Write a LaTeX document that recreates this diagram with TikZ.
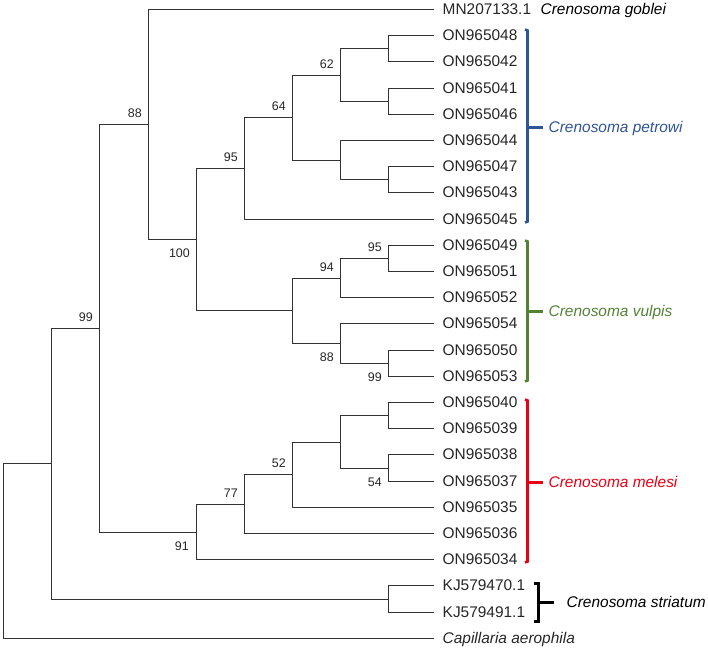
\documentclass[tikz,border=0pt]{standalone}
\usepackage{fontspec}
\setmainfont{Liberation Sans}
\usetikzlibrary{positioning}
\definecolor{petrowiblue}{RGB}{47,85,151}
\definecolor{vulpisgreen}{RGB}{84,130,53}
\definecolor{melesired}{RGB}{232,0,20}
\definecolor{treegray}{RGB}{50,50,50}
\begin{document}
\begin{tikzpicture}[x=1bp, y=-1bp, font=\fontsize{15.5}{18}\selectfont,
    branch/.style={draw=treegray, line width=1.25bp},
    leaf/.style={anchor=west, inner xsep=9bp, inner ysep=0pt, text height=11pt, text depth=0pt, text=black!85},
    boot/.style={font=\fontsize{12.5}{14}\selectfont, inner sep=0pt, text=black!85},
    clade/.style={line width=2.6bp},
    species/.style={anchor=west, inner sep=0pt, text height=11pt, text depth=0pt, font=\fontsize{15.5}{18}\selectfont\itshape}]
\useasboundingbox (0,0) rectangle (708,648);
\begin{scope}[shift={(0.5,0.5)}]
% leaves, one row every 26.2bp
\foreach \t [count=\i from 0] in {MN207133.1, ON965048, ON965042, ON965041, ON965046, ON965044, ON965047, ON965043, ON965045,
    ON965049, ON965051, ON965052, ON965054, ON965050, ON965053,
    ON965040, ON965039, ON965038, ON965037, ON965035, ON965036, ON965034,
    KJ579470.1, KJ579491.1, {\itshape Capillaria aerophila}}
  \node[leaf] (l\i) at (433,{round(9+26.2*\i)}) {\t};
% internal nodes
\coordinate (root) at (3,550);
\coordinate (A) at (51,463);
\coordinate (B) at (99,328);
\coordinate (C) at (148,124);
\coordinate (D) at (196,239);
\coordinate (E) at (244,168);
\coordinate (F) at (292,117);
\coordinate (G) at (340,75);
\coordinate (H) at (340,160);
\coordinate (g1) at (388,48);
\coordinate (g2) at (388,101);
\coordinate (h1) at (388,179);
\coordinate (V1) at (292,310);
\coordinate (V2) at (340,278);
\coordinate (V3) at (340,343);
\coordinate (v1) at (388,258);
\coordinate (v2) at (388,363);
\coordinate (M1) at (196,532);
\coordinate (M2) at (244,504);
\coordinate (M3) at (292,474);
\coordinate (M4) at (340,442);
\coordinate (m1) at (388,415);
\coordinate (m2) at (388,468);
\coordinate (S) at (388,599);
% branches
\draw[branch] (root) |- (A) (root) |- (l24.west)
  (A) |- (B) (A) |- (S) (S) |- (l22.west) (S) |- (l23.west)
  (B) |- (C) (B) |- (M1) (C) |- (l0.west) (C) |- (D)
  (D) |- (E) (D) |- (V1) (E) |- (F) (E) |- (l8.west)
  (F) |- (G) (F) |- (H) (G) |- (g1) (G) |- (g2)
  (g1) |- (l1.west) (g1) |- (l2.west) (g2) |- (l3.west) (g2) |- (l4.west)
  (H) |- (l5.west) (H) |- (h1) (h1) |- (l6.west) (h1) |- (l7.west)
  (V1) |- (V2) (V1) |- (V3) (V2) |- (v1) (V2) |- (l11.west)
  (v1) |- (l9.west) (v1) |- (l10.west) (V3) |- (l12.west) (V3) |- (v2)
  (v2) |- (l13.west) (v2) |- (l14.west)
  (M1) |- (M2) (M1) |- (l21.west) (M2) |- (M3) (M2) |- (l20.west)
  (M3) |- (M4) (M3) |- (l19.west) (M4) |- (m1) (M4) |- (m2)
  (m1) |- (l15.west) (m1) |- (l16.west) (m2) |- (l17.west) (m2) |- (l18.west);
% bootstrap values
\node[boot, above left=7bp and 6.5bp of B] (bB) {99};
\node[boot, above left=7bp and 6.5bp of C] (bC) {88};
\node[boot, below left=9bp and 6.5bp of D] (bD) {100};
\node[boot, above left=7bp and 6.5bp of E] (bE) {95};
\node[boot, above left=7bp and 6.5bp of F] (bF) {64};
\node[boot, above left=7bp and 6.5bp of G] (bG) {62};
\node[boot, above left=7bp and 6.5bp of V2] (bV2) {94};
\node[boot, above left=7bp and 6.5bp of v1] (bv1) {95};
\node[boot, below left=9bp and 6.5bp of V3] (bV3) {88};
\node[boot, below left=9bp and 6.5bp of v2] (bv2) {99};
\node[boot, below left=9bp and 7.5bp of M1] (bM1) {91};
\node[boot, above left=7bp and 6.5bp of M2] (bM2) {77};
\node[boot, above left=7bp and 6.5bp of M3] (bM3) {52};
\node[boot, below left=9bp and 6.5bp of m2] (bm2) {54};
% species
\node[species] (goblei) at (540,9) {Crenosoma goblei};
\node[species, text=petrowiblue] (petrowi) at (548,127) {Crenosoma petrowi};
\node[species, text=vulpisgreen] (vulpis) at (548,311) {Crenosoma vulpis};
\node[species, text=melesired] (melesi) at (548,482) {Crenosoma melesi};
\node[species] (striatum) at (566,602) {Crenosoma striatum};
\draw[clade, petrowiblue] (524.5,29) -- (527,30) -- (527,221) -- (524.5,222);
\draw[clade, petrowiblue] (527,127) -- ([xshift=-6bp]petrowi.west);
\draw[clade, vulpisgreen] (524.5,240) -- (527,241) -- (527,380) -- (524.5,381);
\draw[clade, vulpisgreen] (527,311) -- ([xshift=-6bp]vulpis.west);
\draw[clade, melesired] (524.5,399) -- (527,400) -- (527,561) -- (524.5,562);
\draw[clade, melesired] (527,482) -- ([xshift=-6bp]melesi.west);
\draw[line width=2.4bp] (533,583) -| (538,621) -- (533,621);
\draw[line width=2.4bp] (538,602) -- ([xshift=-13bp]striatum.west);
\end{scope}
\end{tikzpicture}
\end{document}
